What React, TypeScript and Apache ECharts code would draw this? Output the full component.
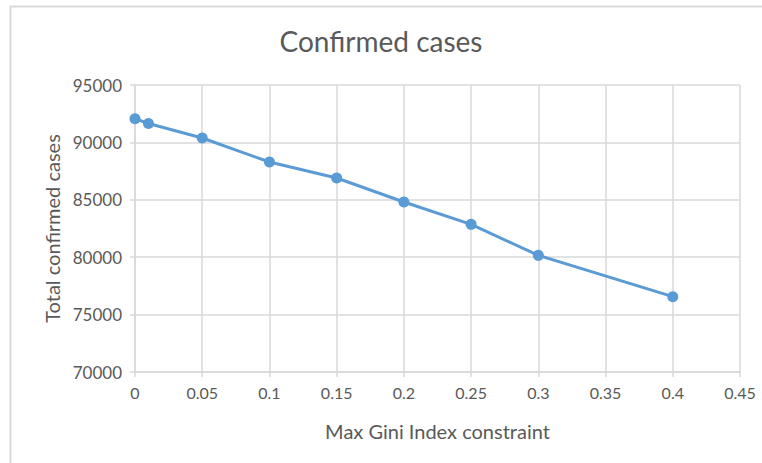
import React, { useEffect, useRef } from "react";
import * as echarts from "echarts";

const giniConstraint = [0, 0.01, 0.05, 0.1, 0.15, 0.2, 0.25, 0.3, 0.4];
const confirmedCases = [92060, 91650, 90380, 88290, 86900, 84810, 82860, 80160, 76560];

const TEXT = "#595959";
const GRID = "#d9d9d9";
const BLUE = "#5b9bd5";
const FONT = "Lato";

export default function App() {
  const ref = useRef<HTMLDivElement>(null);
  useEffect(() => {
    if (!ref.current) return;
    const chart = echarts.init(ref.current, null, { renderer: "svg" });
    chart.setOption({
      animation: false,
      backgroundColor: "#ffffff",
      title: {
        text: "Confirmed cases",
        left: "center",
        top: 22,
        textStyle: { color: TEXT, fontFamily: FONT, fontSize: 28, fontWeight: "normal" },
      },
      graphic: [
        {
          type: "rect",
          shape: { x: 10.5, y: 6.5, width: 800, height: 500 },
          style: { fill: "none", stroke: GRID, lineWidth: 2 },
          silent: true,
        },
      ],
      grid: { left: 135, right: 22, top: 85, bottom: 91 },
      xAxis: {
        type: "value",
        min: 0,
        max: 0.45,
        interval: 0.05,
        name: "Max Gini Index constraint",
        nameLocation: "middle",
        nameGap: 49,
        nameTextStyle: { color: TEXT, fontFamily: FONT, fontSize: 20 },
        axisLine: { show: true, lineStyle: { color: GRID, width: 1.5 } },
        axisTick: { show: true, length: 5, lineStyle: { color: GRID, width: 1.5 } },
        axisLabel: {
          color: TEXT,
          fontFamily: FONT,
          fontSize: 16,
          margin: 12,
          formatter: (v: number) => String(+v.toFixed(2)),
        },
        splitLine: { show: true, lineStyle: { color: GRID, width: 1.5 } },
      },
      yAxis: {
        type: "value",
        min: 70000,
        max: 95000,
        interval: 5000,
        name: "Total confirmed cases",
        nameLocation: "middle",
        nameGap: 72,
        nameTextStyle: { color: TEXT, fontFamily: FONT, fontSize: 20 },
        axisLine: { show: true, lineStyle: { color: GRID, width: 1.5 } },
        axisTick: { show: true, length: 5, lineStyle: { color: GRID, width: 1.5 } },
        axisLabel: {
          color: TEXT,
          fontFamily: FONT,
          fontSize: 17,
          margin: 13,
          formatter: (v: number) => String(v),
        },
        splitLine: { show: true, lineStyle: { color: GRID, width: 1.5 } },
      },
      series: [
        {
          type: "line",
          data: giniConstraint.map((x, i) => [x, confirmedCases[i]]),
          symbol: "circle",
          symbolSize: 11,
          itemStyle: { color: BLUE },
          lineStyle: { color: BLUE, width: 3 },
        },
      ],
    });
    return () => chart.dispose();
  }, []);
  return (
    <div
      ref={ref}
      style={{ position: "fixed", left: 0, top: 0, width: 762, height: 463 }}
    />
  );
}
